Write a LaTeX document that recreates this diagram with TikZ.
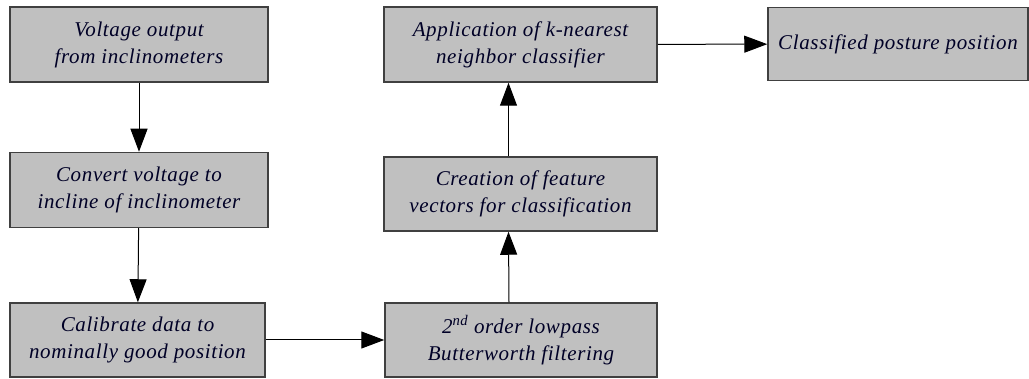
\documentclass[tikz,border=0pt]{standalone}
\usepackage{fontspec}
\setmainfont{Liberation Serif}[LetterSpace=3]
\usetikzlibrary{arrows.meta}
\definecolor{boxfill}{HTML}{C0C0C0}
\definecolor{boxline}{HTML}{404040}
\tikzset{
  stepbox/.style={draw=boxline, line width=1.5pt, fill=boxfill, inner sep=0pt,
    align=center, font=\fontsize{21}{27}\selectfont\itshape, text=black!85!blue},
  conn/.style={draw=black, line width=1pt, -{Triangle[length=23pt,width=17pt]}},
}
\begin{document}
\begin{tikzpicture}[x=1pt,y=-1pt]
\useasboundingbox (0,0) rectangle (1029,379);
\node[stepbox, minimum width=258pt, minimum height=75pt] (b1) at (139,44.5) {Voltage output\\from inclinometers};
\node[stepbox, minimum width=258pt, minimum height=75pt] (b2) at (139,190) {Convert voltage to\\incline of inclinometer};
\node[stepbox, minimum width=255pt, minimum height=74pt] (b3) at (137.5,340) {Calibrate data to\\nominally good position};
\node[stepbox, minimum width=272pt, minimum height=74pt] (b4) at (521,340) {2\textsuperscript{nd} order lowpass\\Butterworth filtering};
\node[stepbox, minimum width=273pt, minimum height=74pt] (b5) at (520.5,194) {Creation of feature\\vectors for classification};
\node[stepbox, minimum width=273pt, minimum height=75pt] (b6) at (520.5,44.5) {Application of k-nearest\\neighbor classifier};
\node[stepbox, minimum width=260pt, minimum height=73pt] (b7) at (898,44) {\raisebox{4pt}{Classified posture position}};
\draw[conn] (b1) -- (b2);
\draw[conn] (b2) -- (b3);
\draw[conn] (b3) -- (b4);
\draw[conn] ([xshift=-12pt]b4.north) -- ([xshift=-12pt]b5.south);
\draw[conn] ([xshift=-12pt]b5.north) -- ([xshift=-12pt]b6.south);
\draw[conn] (b6) -- (b7);
\end{tikzpicture}
\end{document}
